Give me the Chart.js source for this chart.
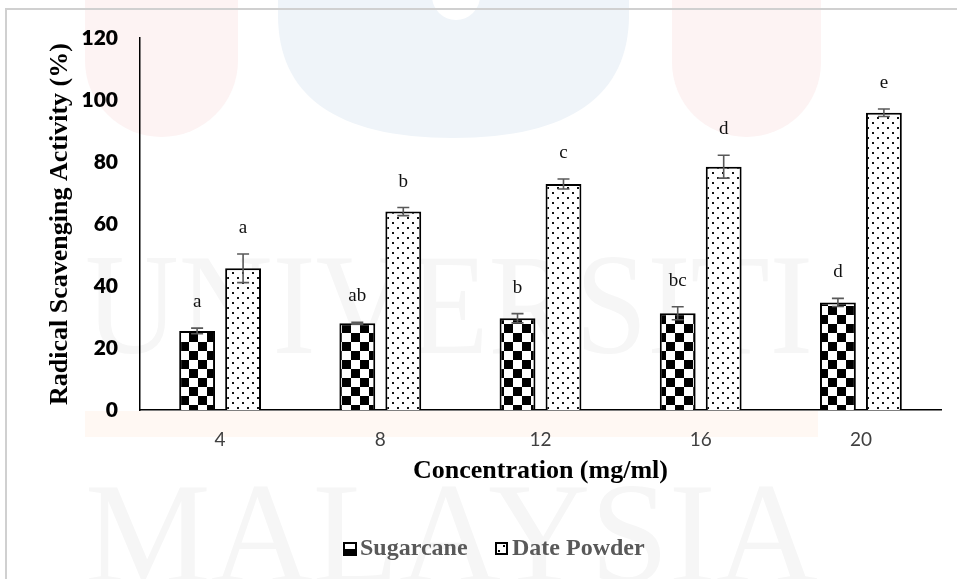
<!DOCTYPE html>
<html>
<head>
<meta charset="utf-8">
<script src="https://cdn.jsdelivr.net/npm/chart.js@4.4.1/dist/chart.umd.min.js"></script>
<style>
  html, body { margin: 0; padding: 0; background: #fff; }
  #wrap { width: 957px; height: 579px; }
</style>
</head>
<body>
<div id="wrap"><canvas id="c" width="957" height="579"></canvas></div>
<script>
var concentrations = ['4', '8', '12', '16', '20'];
var sugarcane = [25.5, 28.0, 29.6, 31.2, 34.7];
var sugarcaneErr = [0.9, 0.3, 1.5, 2.1, 1.3];
var sugarcaneLetters = ['a', 'ab', 'b', 'bc', 'd'];
var datePowder = [45.7, 64.0, 72.9, 78.5, 95.9];
var datePowderErr = [4.6, 1.3, 1.6, 3.7, 1.2];
var datePowderLetters = ['a', 'b', 'c', 'd', 'e'];
var yMin = 0, yMax = 120, yStep = 20;

var serif = '"Liberation Serif", "Times New Roman", serif';
var sans = 'Lato, "Open Sans", sans-serif';

function makePattern(kind){
  var t = document.createElement('canvas');
  var ctx = t.getContext('2d');
  if(kind === 'checker'){
    t.width = 18; t.height = 18;
    ctx.fillStyle = '#fff'; ctx.fillRect(0, 0, 18, 18);
    ctx.fillStyle = '#000';
    ctx.fillRect(0, 0, 9, 9);
    ctx.fillRect(9, 9, 9, 9);
  } else {
    t.width = 10; t.height = 10;
    ctx.fillStyle = '#fff'; ctx.fillRect(0, 0, 10, 10);
    ctx.fillStyle = '#111';
    ctx.fillRect(2, 2, 2, 2);
    ctx.fillRect(7, 7, 2, 2);
  }
  return ctx.createPattern(t, 'repeat');
}

var checkerFill = makePattern('checker');
var dotFill = makePattern('dots');

// faint university watermark behind the chart
var watermarkPlugin = {
  id: 'watermark',
  beforeDraw: function(chart){
    var ctx = chart.ctx;
    ctx.save();
    ctx.fillStyle = '#fff';
    ctx.fillRect(0, 0, chart.width, chart.height);

    function pill(x, w, bottom, color){
      var r = w / 2;
      ctx.beginPath();
      ctx.moveTo(x, 0);
      ctx.lineTo(x, bottom - r);
      ctx.arc(x + r, bottom - r, r, Math.PI, 0, true);
      ctx.lineTo(x + w, 0);
      ctx.closePath();
      ctx.fillStyle = color;
      ctx.fill();
    }
    pill(85, 153, 137, '#fdf3f3');
    pill(672, 149, 137, '#fdf3f3');

    ctx.beginPath();
    ctx.moveTo(278, 0);
    ctx.lineTo(278, 15);
    ctx.bezierCurveTo(278, 95, 335, 138, 453, 138);
    ctx.bezierCurveTo(571, 138, 629, 95, 629, 15);
    ctx.lineTo(629, 0);
    ctx.closePath();
    ctx.fillStyle = '#eff4f9';
    ctx.fill();
    ctx.beginPath();
    ctx.arc(456, -4, 24, 0, Math.PI * 2);
    ctx.fillStyle = '#fff';
    ctx.fill();

    ctx.fillStyle = '#fff8f3';
    ctx.fillRect(85, 411, 733, 26);

    ctx.fillStyle = '#f6f6f6';
    ctx.font = '143px ' + serif;
    ctx.textBaseline = 'alphabetic';
    function stretched(text, x, w, baseline){
      var m = ctx.measureText(text).width;
      ctx.save();
      ctx.translate(x, baseline);
      ctx.scale(w / m, 1);
      ctx.fillText(text, 0, 0);
      ctx.restore();
    }
    stretched('UNIVERSITI', 85, 728, 353);
    stretched('MALAYSIA', 85, 733, 582);
    ctx.restore();
  }
};

var marksPlugin = {
  id: 'marks',
  afterDatasetsDraw: function(chart){
    var ctx = chart.ctx;
    var y = chart.scales.y;
    var errs = [sugarcaneErr, datePowderErr];
    var letters = [sugarcaneLetters, datePowderLetters];
    ctx.save();
    chart.data.datasets.forEach(function(ds, di){
      var meta = chart.getDatasetMeta(di);
      meta.data.forEach(function(bar, i){
        var v = ds.data[i], e = errs[di][i];
        var top = y.getPixelForValue(v + e);
        var bot = y.getPixelForValue(v - e);
        ctx.strokeStyle = '#595959';
        ctx.lineWidth = 1.6;
        ctx.beginPath();
        ctx.moveTo(bar.x, top); ctx.lineTo(bar.x, bot);
        ctx.moveTo(bar.x - 6, top); ctx.lineTo(bar.x + 6, top);
        ctx.moveTo(bar.x - 6, bot); ctx.lineTo(bar.x + 6, bot);
        ctx.stroke();
        ctx.fillStyle = '#111';
        ctx.font = '19px ' + serif;
        ctx.textAlign = 'center';
        ctx.textBaseline = 'middle';
        ctx.fillText(letters[di][i], bar.x, top - 26);
      });
    });
    ctx.restore();
  },
  afterDraw: function(chart){
    var ctx = chart.ctx;
    ctx.save();
    // outer frame
    ctx.strokeStyle = '#d0d0d0';
    ctx.lineWidth = 2;
    ctx.beginPath();
    ctx.moveTo(5, 9); ctx.lineTo(957, 9);
    ctx.moveTo(6, 9); ctx.lineTo(6, 579);
    ctx.stroke();

    // legend
    var ds = chart.data.datasets;
    var ly = 549;
    ctx.fillStyle = '#000';
    ctx.fillRect(343, 542, 14, 14);
    ctx.fillStyle = '#fff';
    ctx.fillRect(345, 544, 10, 5);
    ctx.fillStyle = '#fff';
    ctx.fillRect(495, 542, 13, 13);
    ctx.strokeStyle = '#000';
    ctx.lineWidth = 2;
    ctx.strokeRect(496, 543, 11, 11);
    ctx.fillStyle = '#000';
    ctx.fillRect(503, 545, 2, 2);
    ctx.fillRect(498, 550, 2, 2);

    ctx.font = 'bold 24px ' + serif;
    ctx.fillStyle = '#595959';
    ctx.textAlign = 'left';
    ctx.textBaseline = 'middle';
    ctx.fillText(ds[0].label, 360, ly);
    ctx.fillText(ds[1].label, 512, ly);
    ctx.restore();
  }
};

new Chart(document.getElementById('c').getContext('2d'), {
  type: 'bar',
  data: {
    labels: concentrations,
    datasets: [
      {
        label: 'Sugarcane',
        data: sugarcane,
        backgroundColor: checkerFill,
        borderColor: '#000',
        borderWidth: 2,
        categoryPercentage: 0.574,
        barPercentage: 0.78
      },
      {
        label: 'Date Powder',
        data: datePowder,
        backgroundColor: dotFill,
        borderColor: '#000',
        borderWidth: 2,
        categoryPercentage: 0.574,
        barPercentage: 0.78
      }
    ]
  },
  options: {
    responsive: false,
    animation: false,
    devicePixelRatio: 1,
    layout: { padding: { left: 0, right: 16, top: 38, bottom: 60 } },
    plugins: {
      legend: { display: false },
      tooltip: { enabled: false }
    },
    scales: {
      x: {
        grid: { display: false, drawTicks: false },
        border: { display: true, color: '#000', width: 1.5 },
        ticks: { color: '#404040', font: { family: sans, size: 19 }, padding: 18 },
        title: {
          display: true,
          text: 'Concentration (mg/ml)',
          color: '#000',
          font: { family: serif, size: 26, weight: 'bold' },
          padding: { top: 0, bottom: 32 }
        },
        afterFit: function(scale){ scale.height = 109; }
      },
      y: {
        min: yMin,
        max: yMax,
        grid: { display: false, drawTicks: false },
        border: { display: true, color: '#000', width: 1.5 },
        ticks: {
          stepSize: yStep,
          color: '#000',
          font: { family: sans, size: 21, weight: '800' },
          padding: 22
        },
        title: {
          display: true,
          text: 'Radical Scavenging Activity (%)',
          color: '#000',
          font: { family: serif, size: 26, weight: 'bold' },
          padding: { top: 45, bottom: 0 }
        },
        afterFit: function(scale){ scale.width = 140; }
      }
    }
  },
  plugins: [watermarkPlugin, marksPlugin]
});
</script>
</body>
</html>
